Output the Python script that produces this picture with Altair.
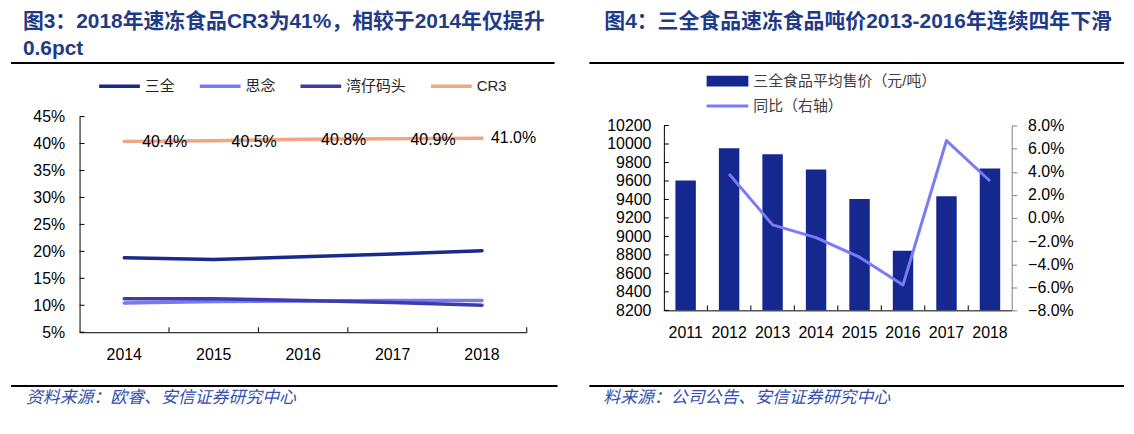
import altair as alt
import pandas as pd

# ---------------- Figure 3 data ----------------
years_l = ["2014", "2015", "2016", "2017", "2018"]
series_names = ["三全", "思念", "湾仔码头", "CR3"]
sanquan = [0.188, 0.185, 0.190, 0.195, 0.201]
sinian = [0.104, 0.107, 0.108, 0.109, 0.109]
wanzai = [0.112, 0.112, 0.109, 0.105, 0.100]
cr3 = [0.404, 0.405, 0.408, 0.409, 0.410]
y_ticks_l = [0.05, 0.10, 0.15, 0.20, 0.25, 0.30, 0.35, 0.40, 0.45]

# ---------------- Figure 4 data ----------------
years_r = ["2011", "2012", "2013", "2014", "2015", "2016", "2017", "2018"]
price = [9605, 9955, 9890, 9725, 9405, 8845, 9435, 9735]
yoy = [None, 0.038, -0.006, -0.017, -0.034, -0.058, 0.067, 0.032]
y_ticks_r = [8200, 8400, 8600, 8800, 9000, 9200, 9400, 9600, 9800, 10000, 10200]
y_ticks_r2 = [-0.08, -0.06, -0.04, -0.02, 0.0, 0.02, 0.04, 0.06, 0.08]

bar_label = "三全食品平均售价（元/吨）"
line_label = "同比（右轴）"
title_l1 = "图3：2018年速冻食品CR3为41%，相较于2014年仅提升"
title_l2 = "0.6pct"
title_r = "图4：三全食品速冻食品吨价2013-2016年连续四年下滑"
source_l = "资料来源：欧睿、安信证券研究中心"
source_r = "料来源：公司公告、安信证券研究中心"

# ---------------- styles ----------------
FONT = "'Liberation Sans', 'Noto Sans CJK SC', sans-serif"
CJK = "'Noto Sans CJK SC', sans-serif"
colors_l = ["#1A2A8C", "#7878F5", "#3C3CAA", "#F0A587"]
BAR_COLOR = "#14288F"
LINE_COLOR = "#7B7BF8"
TITLE_COLOR = "#1F3B87"
SOURCE_COLOR = "#3350B0"
W_L, H_L = 450, 217
W_R, H_R = 350, 195
TOP_R = 9  # right plot's value area starts 9px below the shared top

rows = []
for name, vals in zip(series_names, [sanquan, sinian, wanzai, cr3]):
    for yr, v in zip(years_l, vals):
        rows.append({"year": yr, "series": name, "value": v})
df_l = pd.DataFrame(rows)
df_cr3 = df_l[df_l["series"] == "CR3"]

df_r = pd.DataFrame({"year": years_r, "price": price, "yoy": yoy,
                     "bar": bar_label, "line": line_label})


def deco_text(text, x, y, size, color, weight="normal", style="normal", font=FONT):
    return alt.Chart(pd.DataFrame({"t": [text]})).mark_text(
        align="left", baseline="middle", fontSize=size, font=font,
        fontWeight=weight, fontStyle=style, color=color
    ).encode(text="t:N", x=alt.value(x), y=alt.value(y))


def deco_rule(x1, x2, y, width=2):
    return alt.Chart(pd.DataFrame({"k": [0]})).mark_rule(
        color="black", strokeWidth=width
    ).encode(x=alt.value(x1), x2=alt.value(x2), y=alt.value(y))


axis_style = dict(labelFont=FONT, labelFontSize=16, labelColor="black",
                  domainColor="black", domainWidth=1, grid=False)

# ---------------- left chart ----------------
xs_l = alt.Scale(type="band", domain=years_l, paddingInner=0, paddingOuter=0)
ys_l = alt.Scale(domain=[0.05, 0.45], nice=False, zero=False)
x_axis_l = alt.Axis(ticks=False, tickSize=0, labelPadding=14, labelAngle=0, **axis_style)
y_axis_l = alt.Axis(ticks=False, tickSize=0, labelPadding=15, values=y_ticks_l,
                    format=".0%", **axis_style)

lines_l = alt.Chart(df_l).mark_line(strokeCap="round", strokeJoin="round").encode(
    x=alt.X("year:N", scale=xs_l, bandPosition=0.5, title=None, axis=x_axis_l),
    y=alt.Y("value:Q", scale=ys_l, title=None, axis=y_axis_l),
    color=alt.Color("series:N", scale=alt.Scale(domain=series_names, range=colors_l),
                    legend=alt.Legend(title=None, orient="none", legendX=17.7, legendY=-53.2,
                                      direction="horizontal", columns=4, symbolType="stroke",
                                      symbolSize=1681, symbolStrokeWidth=4, labelFontSize=15,
                                      labelFont=FONT, labelColor="#262626", labelOffset=3,
                                      columnPadding=17.3, padding=0)),
    strokeWidth=alt.StrokeWidth("series:N", scale=alt.Scale(domain=series_names, range=[3.5, 3.5, 3.5, 6]),
                                legend=None),
)

lab_a = alt.Chart(df_cr3).transform_filter(alt.datum.year != years_l[-1]).mark_text(
    align="left", baseline="middle", dx=18, dy=1, fontSize=16, font=FONT, color="black"
).encode(
    x=alt.X("year:N", scale=xs_l, bandPosition=0.5, title=None, axis=x_axis_l),
    y=alt.Y("value:Q", scale=ys_l, title=None, axis=y_axis_l),
    text=alt.Text("value:Q", format=".1%"),
)
lab_b = alt.Chart(df_cr3).transform_filter(alt.datum.year == years_l[-1]).mark_text(
    align="left", baseline="middle", dx=9, dy=0, fontSize=16, font=FONT, color="black"
).encode(
    x=alt.X("year:N", scale=xs_l, bandPosition=0.5, title=None, axis=x_axis_l),
    y=alt.Y("value:Q", scale=ys_l, title=None, axis=y_axis_l),
    text=alt.Text("value:Q", format=".1%"),
)

ytick_l = alt.Chart(pd.DataFrame({"v": y_ticks_l})).mark_rule(color="black", strokeWidth=1).encode(
    y=alt.Y("v:Q", scale=ys_l, title=None, axis=y_axis_l), x=alt.value(0), x2=alt.value(5))
xtick_l = alt.Chart(pd.DataFrame({"year": years_l[1:]})).mark_rule(color="black", strokeWidth=1).encode(
    x=alt.X("year:N", scale=xs_l, bandPosition=0, title=None, axis=x_axis_l),
    y=alt.value(H_L - 5), y2=alt.value(H_L))
xtick_l_end = alt.Chart(pd.DataFrame({"year": years_l[-1:]})).mark_rule(color="black", strokeWidth=1).encode(
    x=alt.X("year:N", scale=xs_l, bandPosition=1, title=None, axis=x_axis_l),
    y=alt.value(H_L - 5), y2=alt.value(H_L))

left = alt.layer(
    lines_l, lab_a, lab_b, ytick_l, xtick_l, xtick_l_end,
    deco_text(title_l1, -57, -95, 21, TITLE_COLOR, weight="bold"),
    deco_text(title_l2, -57, -68, 21, TITLE_COLOR, weight="bold"),
    deco_rule(-69, 478, -54),
    deco_rule(-69, 481, 271),
    deco_text(source_l, -54, 283, 17, SOURCE_COLOR, style="italic", font=CJK),
).properties(width=W_L, height=H_L)

# ---------------- right chart ----------------
xs_r = alt.Scale(type="band", domain=years_r, paddingInner=0.53, paddingOuter=0.265)
ys_r = alt.Scale(domain=[8200, 10200], nice=False, zero=False, clamp=True, range=[H_R, TOP_R])
ys_r2 = alt.Scale(domain=[-0.08, 0.08], nice=False, zero=False, range=[H_R, TOP_R])
x_axis_r = alt.Axis(ticks=False, tickSize=0, labelPadding=14, labelAngle=0, **axis_style)
y_axis_r = alt.Axis(ticks=False, tickSize=0, labelPadding=13, values=y_ticks_r,
                    format="d", **axis_style)

bars = alt.Chart(df_r).mark_bar().encode(
    x=alt.X("year:N", scale=xs_r, title=None, axis=x_axis_r),
    y=alt.Y("price:Q", scale=ys_r, title=None, axis=y_axis_r),
    y2=alt.datum(8200),
    fill=alt.Fill("bar:N", scale=alt.Scale(domain=[bar_label], range=[BAR_COLOR]),
                  legend=alt.Legend(title=None, orient="none", legendX=43, legendY=-65.7 + TOP_R,
                                    symbolType="M-1,-0.26L1,-0.26L1,0.26L-1,0.26Z",
                                    symbolSize=1764, symbolStrokeWidth=0, labelFontSize=15,
                                    labelFont=FONT, labelColor="#404040", labelOffset=5,
                                    labelLimit=400, padding=0)),
)

ytick_r = alt.Chart(pd.DataFrame({"v": y_ticks_r})).mark_rule(color="black", strokeWidth=1).encode(
    y=alt.Y("v:Q", scale=ys_r, title=None, axis=y_axis_r), x=alt.value(0), x2=alt.value(5))
xtick_r = alt.Chart(pd.DataFrame({"year": years_r[1:]})).mark_rule(
    color="black", strokeWidth=1, xOffset=-11.6
).encode(x=alt.X("year:N", scale=xs_r, bandPosition=0, title=None, axis=x_axis_r),
         y=alt.value(H_R - 5), y2=alt.value(H_R))

inner_r = alt.layer(
    bars, ytick_r, xtick_r,
    deco_text(title_r, -60, -104 + TOP_R, 21, TITLE_COLOR, weight="bold"),
    deco_rule(-75, 463, -63 + TOP_R),
    deco_rule(-75, 463, 262 + TOP_R),
    deco_text(source_r, -61, 274 + TOP_R, 17, SOURCE_COLOR, style="italic", font=CJK),
)

line_r = alt.Chart(df_r).mark_line(strokeWidth=3, strokeJoin="round").encode(
    x=alt.X("year:N", scale=xs_r, bandPosition=0.5, title=None, axis=x_axis_r),
    y=alt.Y("yoy:Q", scale=ys_r2, title=None,
            axis=alt.Axis(orient="right", values=y_ticks_r2, format=".1%", tickSize=5,
                          tickColor="#808080", labelPadding=11, labelFont=FONT, labelFontSize=16,
                          labelColor="black", domainColor="#808080", grid=False)),
    stroke=alt.Stroke("line:N", scale=alt.Scale(domain=[line_label], range=[LINE_COLOR]),
                      legend=alt.Legend(title=None, orient="none", legendX=41.5, legendY=-42.2 + TOP_R,
                                        symbolType="stroke", symbolSize=1764, symbolStrokeWidth=3,
                                        labelFontSize=15, labelFont=FONT, labelColor="#404040",
                                        labelOffset=3.5, labelLimit=400, padding=0)),
)

right = alt.layer(inner_r, line_r).resolve_scale(y="independent").properties(width=W_R, height=H_R)

chart = alt.hconcat(left, right, spacing=28).resolve_scale(
    color="independent", fill="independent", stroke="independent", strokeWidth="independent"
).properties(
    padding={"left": 1, "top": 1, "right": 0, "bottom": 0}, background="white"
).configure_view(stroke="transparent")

chart.save("out.html", embed_options={"renderer": "svg", "actions": False})
